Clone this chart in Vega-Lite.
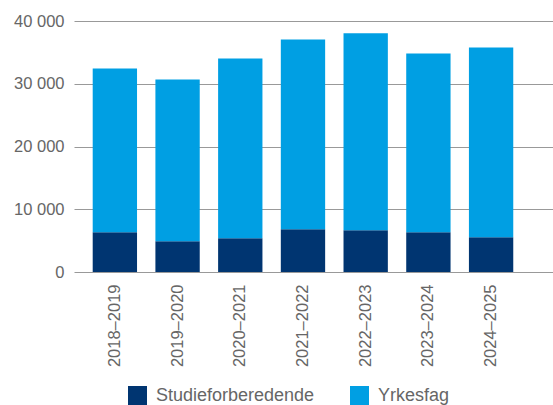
{
  "$schema": "https://vega.github.io/schema/vega-lite/v6.json",
  "width": 479,
  "height": 251,
  "autosize": {"type": "none"},
  "padding": {"left": 74, "top": 21, "right": 0, "bottom": 133},
  "background": "white",
  "data": {
    "values": [
      {"year": "2018–2019", "type": "Studieforberedende", "value": 6350},
      {"year": "2018–2019", "type": "Yrkesfag", "value": 26080},
      {"year": "2019–2020", "type": "Studieforberedende", "value": 4910},
      {"year": "2019–2020", "type": "Yrkesfag", "value": 25760},
      {"year": "2020–2021", "type": "Studieforberedende", "value": 5390},
      {"year": "2020–2021", "type": "Yrkesfag", "value": 28640},
      {"year": "2021–2022", "type": "Studieforberedende", "value": 6830},
      {"year": "2021–2022", "type": "Yrkesfag", "value": 30240},
      {"year": "2022–2023", "type": "Studieforberedende", "value": 6670},
      {"year": "2022–2023", "type": "Yrkesfag", "value": 31360},
      {"year": "2023–2024", "type": "Studieforberedende", "value": 6350},
      {"year": "2023–2024", "type": "Yrkesfag", "value": 28480},
      {"year": "2024–2025", "type": "Studieforberedende", "value": 5550},
      {"year": "2024–2025", "type": "Yrkesfag", "value": 30240}
    ]
  },
  "mark": {"type": "bar"},
  "encoding": {
    "x": {
      "field": "year",
      "type": "nominal",
      "sort": null,
      "scale": {"paddingInner": 0.293, "paddingOuter": 0.466, "align": 0.32},
      "axis": {
        "title": null,
        "labelAngle": -90,
        "labelFont": "Liberation Sans",
        "labelFontSize": 16.5,
        "labelColor": "#666666",
        "labelPadding": 12,
        "ticks": false,
        "domain": false
      }
    },
    "y": {
      "field": "value",
      "type": "quantitative",
      "stack": "zero",
      "scale": {"domain": [0, 40000]},
      "axis": {
        "title": null,
        "values": [0, 10000, 20000, 30000, 40000],
        "labelExpr": "replace(format(datum.value, ',d'), ',', ' ')",
        "labelFont": "Liberation Sans",
        "labelFontSize": 16.5,
        "labelColor": "#666666",
        "labelPadding": 10,
        "ticks": false,
        "domain": false,
        "grid": true,
        "gridColor": "#999999",
        "gridWidth": 1
      }
    },
    "color": {
      "field": "type",
      "type": "nominal",
      "scale": {"domain": ["Studieforberedende", "Yrkesfag"], "range": ["#003571", "#009FE3"]},
      "legend": {
        "title": null,
        "orient": "none",
        "direction": "horizontal",
        "legendX": 54,
        "legendY": 365,
        "symbolType": "square",
        "symbolSize": 361,
        "symbolStrokeWidth": 0,
        "labelFont": "Liberation Sans",
        "labelFontSize": 18,
        "labelColor": "#666666",
        "labelOffset": 9,
        "columnPadding": 35
      }
    },
    "order": {"field": "type", "sort": "ascending"}
  },
  "config": {"view": {"stroke": null}}
}
